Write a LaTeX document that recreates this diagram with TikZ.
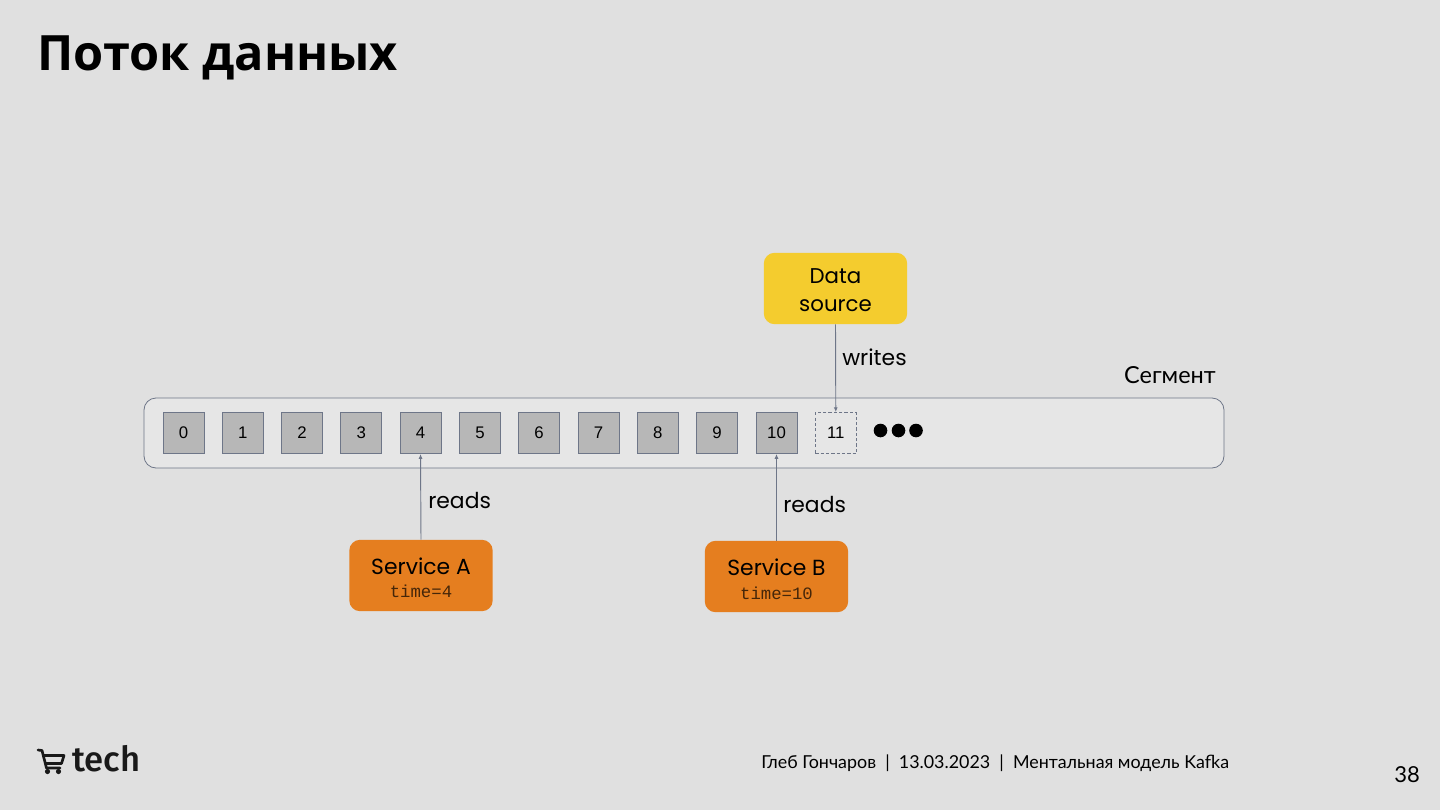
\documentclass[tikz,border=0pt]{standalone}
\usepackage{fontspec}
\setmainfont{Lato}
\newfontfamily\titlefont{Open Sans}
\newfontfamily\labelfont{Poppins}
\newfontfamily\cyrfont{Lato}
\newfontfamily\numfont{Liberation Sans}
\newfontfamily\codefont{Liberation Mono}
\newfontfamily\logofont{Fira Sans Medium}
\usetikzlibrary{arrows.meta}
\definecolor{bgc}{HTML}{E0E0E0}
\definecolor{segc}{HTML}{E6E6E6}
\definecolor{cellc}{HTML}{B7B7B7}
\definecolor{linec}{HTML}{6E7688}
\definecolor{yellowc}{HTML}{F4CC2E}
\definecolor{orangec}{HTML}{E57E1F}
\tikzset{
  x=0.75pt,y=-0.75pt,
  segbox/.style={draw=linec,line width=0.6pt,fill=segc,rounded corners=9pt,minimum width=810pt,minimum height=52.5pt,inner sep=0pt},
  cell/.style={draw=linec,line width=0.7pt,fill=cellc,minimum size=30.75pt,inner sep=0pt,font=\numfont\fontsize{12.6}{14}\selectfont},
  newcell/.style={draw=linec,line width=0.6pt,dashed,dash pattern=on 2.4pt off 1.6pt,minimum size=30.75pt,inner sep=0pt,font=\numfont\fontsize{12.6}{14}\selectfont},
  srcbox/.style={fill=yellowc,rounded corners=8pt,minimum width=107.5pt,minimum height=53.5pt,inner sep=0pt},
  srctext/.style={inner sep=0pt,align=center,font=\labelfont\fontsize{16}{21.3}\selectfont},
  svcbox/.style={fill=orangec,rounded corners=8pt,minimum width=107.5pt,minimum height=53.5pt,inner sep=0pt},
  svcname/.style={inner sep=0pt,font=\labelfont\fontsize{16.4}{18}\selectfont},
  svctime/.style={inner sep=0pt,font=\codefont\fontsize{13}{14}\selectfont,text=black!70!orangec},
  lbl/.style={inner sep=0pt,font=\labelfont\fontsize{16.4}{18}\selectfont},
  conn/.style={draw=linec,line width=0.7pt,-{Latex[length=3.6pt,width=3pt]}},
  dot/.style={circle,fill=black,minimum size=10.2pt,inner sep=0pt},
}
\begin{document}
\begin{tikzpicture}
\useasboundingbox (0,0) rectangle (1440,810);
\fill[bgc] (0,0) rectangle (1440,810);
\node[anchor=west,inner sep=0pt,font=\titlefont\bfseries\fontsize{36.5}{40}\selectfont] (title) at (37,58) {Поток данных};
\node[segbox] (seg) at (684,433) {};
\node[anchor=east,inner sep=0pt,font=\cyrfont\fontsize{17.6}{20}\selectfont] (seglabel) at (1216,375) {Сегмент};
\node[cell] (c0) at (183.5,433) {0};
\node[cell] (c1) at (242.8,433) {1};
\node[cell] (c2) at (302,433) {2};
\node[cell] (c3) at (361.3,433) {3};
\node[cell] (c4) at (420.5,433) {4};
\node[cell] (c5) at (480,432.5) {5};
\node[cell] (c6) at (539,433) {6};
\node[cell] (c7) at (598.5,433) {7};
\node[cell] (c8) at (657.8,433) {8};
\node[cell] (c9) at (717,433) {9};
\node[cell] (c10) at (776.5,433) {10};
\node[newcell] (c11) at (835.8,433) {11};
\node[dot] (d1) at (880.5,430.5) {};
\node[dot] (d2) at (898.5,430.5) {};
\node[dot] (d3) at (916,430.5) {};
\node[srcbox] (src) at (835.5,288.5) {};
\node[srctext] (srct) at (835.5,290) {Data\\source};
\node[svcbox] (sa) at (421,575.5) {};
\node[svcname] (san) at (421,566) {Service A};
\node[svctime] (sat) at (421,591) {time=4};
\node[svcbox] (sb) at (776.5,576.5) {};
\node[svcname] (sbn) at (776.5,567) {Service B};
\node[svctime] (sbt) at (776.5,593) {time=10};
\draw[conn] (src.south) -- (c11.north);
\draw[conn] (sa.north) -- (c4.south);
\draw[conn] (sb.north) -- (c10.south);
\node[lbl,anchor=west] (w) at (842,357) {writes};
\node[lbl,anchor=west] (r1) at (428,501) {reads};
\node[lbl,anchor=west] (r2) at (783,505) {reads};
% logo
\draw[line width=2pt,line cap=round,line join=round,black!90] (38,750) -- (42,750.5) -- (46.5,768) -- (60,768);
\draw[line width=2pt,line join=round,black!90] (43,755.5) -- (64,755.5) -- (61.5,763.5) -- (45,763.5);
\fill[black!90] (47.5,771.5) circle (2.6);
\fill[black!90] (58.5,771.5) circle (2.6);
\node[anchor=west,inner sep=0pt,font=\logofont\fontsize{26}{28}\selectfont,text=black!90] (logo) at (72,759) {tech};
% footer
\node[anchor=west,inner sep=0pt,font=\cyrfont\fontsize{13.4}{15}\selectfont] (foot) at (761,763) {Глеб Гончаров\ \ |\ \ 13.03.2023\ \ |\ \ Ментальная модель Kafka};
\node[anchor=center,inner sep=0pt,font=\cyrfont\fontsize{16.5}{18}\selectfont] (page) at (1407,775) {38};
\end{tikzpicture}
\end{document}
